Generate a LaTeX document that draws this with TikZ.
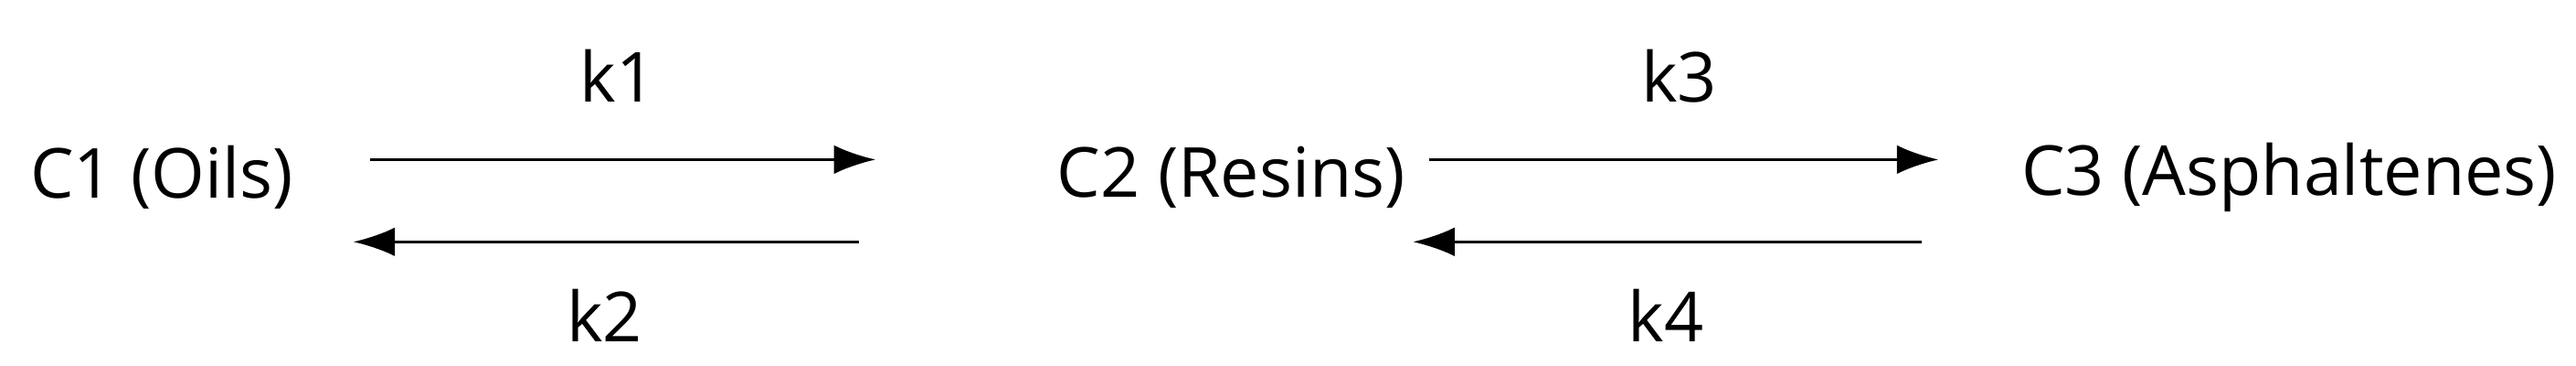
\documentclass[tikz,border=0pt]{standalone}
\usepackage{fontspec}
\setmainfont{Open Sans}
\usetikzlibrary{arrows.meta}
\begin{document}
\begin{tikzpicture}[x=0.018cm,y=-0.018cm,
  lbl/.style={font=\fontsize{21.5}{25}\selectfont,inner sep=0},
  arr/.style={line width=1pt,-{Latex[length=13pt,width=9pt]}}]
\useasboundingbox (0,0) rectangle (1568,222);
\node[lbl,anchor=west] (c1) at (18,108) {C1 (Oils)};
\node[lbl,anchor=west] (c2) at (643,108) {C2 (Resins)};
\node[lbl,anchor=west] (c3) at (1230,108) {C3 (Asphaltenes)};
\coordinate (a1s) at (225,97); \coordinate (a1e) at (533,97);
\coordinate (a2s) at (523,147); \coordinate (a2e) at (215,147);
\coordinate (a3s) at (870,97); \coordinate (a3e) at (1180,97);
\coordinate (a4s) at (1170,147); \coordinate (a4e) at (860,147);
\draw[arr] (a1s) -- (a1e);
\draw[arr] (a2s) -- (a2e);
\draw[arr] (a3s) -- (a3e);
\draw[arr] (a4s) -- (a4e);
\node[lbl] (k1) at (376,46) {k1};
\node[lbl] (k2) at (368,192) {k2};
\node[lbl] (k3) at (1022,46) {k3};
\node[lbl] (k4) at (1014,192) {k4};
\end{tikzpicture}
\end{document}
